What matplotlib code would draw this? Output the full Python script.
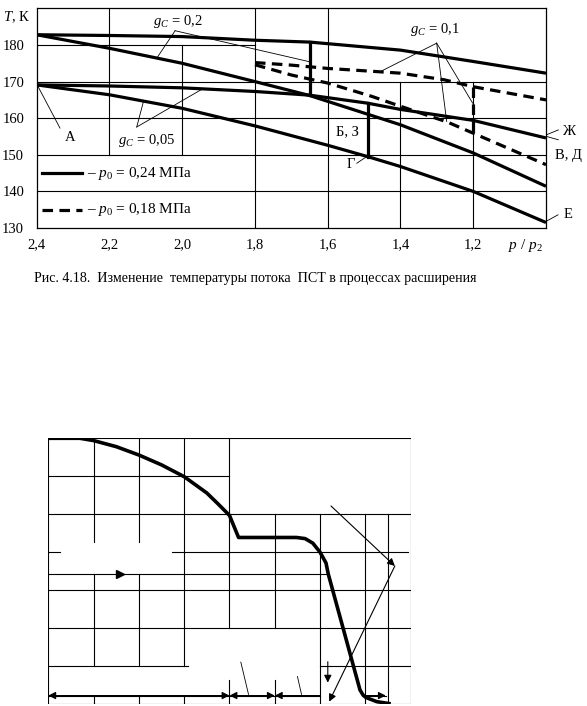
import matplotlib
matplotlib.use('Agg')
import matplotlib.pyplot as plt

plt.rcParams['font.family'] = ['Liberation Serif', 'DejaVu Serif']
plt.rcParams['mathtext.fontset'] = 'custom'
plt.rcParams['mathtext.rm'] = 'Liberation Serif'
plt.rcParams['mathtext.it'] = 'Liberation Serif:italic'

W, H = 587, 706

# ---------------- upper chart: T(p/p2) ----------------
x_ticks = [2.4, 2.2, 2.0, 1.8, 1.6, 1.4, 1.2]
x_tick_labels = ['2,4', '2,2', '2,0', '1,8', '1,6', '1,4', '1,2']
y_ticks = [130, 140, 150, 160, 170, 180]

# p0 = 0.24 MPa (solid)
p_top = [2.4, 2.2, 2.0, 1.8, 1.65, 1.4, 1.2, 1.0]
T_top = [182.8, 182.6, 182.3, 181.3, 180.8, 178.6, 175.5, 172.3]
p_a = [2.4, 2.2, 2.0, 1.8, 1.65, 1.4, 1.2, 1.0]
T_a = [182.8, 179.1, 175.0, 170.0, 166.2, 158.2, 150.5, 141.4]
p_b = [2.4, 2.2, 2.0, 1.8, 1.65, 1.49, 1.4, 1.2, 1.0]
T_b = [169.1, 168.8, 168.3, 167.3, 166.3, 164.1, 162.4, 159.4, 154.6]
p_c = [2.4, 2.2, 2.0, 1.8, 1.6, 1.49, 1.4, 1.2, 1.0]
T_c = [169.1, 166.4, 162.7, 157.9, 152.6, 149.5, 146.8, 140.0, 131.5]
jump_p = [1.65, 1.49]
jump_T0 = [180.8, 164.1]
jump_T1 = [166.3, 149.5]

# p0 = 0.18 MPa (dashed)
p_d1 = [1.8, 1.7, 1.6, 1.46, 1.4, 1.28, 1.2, 1.0]
T_d1 = [175.2, 174.5, 173.6, 172.7, 172.3, 170.5, 168.6, 165.0]
p_d2 = [1.8, 1.7, 1.6, 1.48, 1.41, 1.27, 1.2, 1.0]
T_d2 = [174.6, 171.8, 169.6, 166.0, 163.6, 158.9, 155.9, 147.3]
djump_p = 1.2
djump_T = [168.6, 155.9]

# grid pieces: (x, T from, T to) and (T, x from, x to)
grid_v = [(2.2, 150, 190), (2.0, 150, 180), (1.8, 130, 190),
          (1.6, 130, 190), (1.4, 130, 170), (1.2, 130, 170)]
grid_h = [(180, 2.4, 1.8), (170, 2.4, 1.0), (160, 2.4, 1.0),
          (150, 2.4, 1.0), (140, 2.4, 1.0)]

# leaders: label apex -> targets
lead_02 = [(2.0195, 183.9), [(2.07, 176.4), (1.649, 175.4)]]
lead_005 = [(2.125, 157.6), [(2.107, 164.4), (1.946, 167.9)]]
lead_01 = [(1.3005, 180.5), [(1.456, 172.7), (1.273, 159.1), (1.2015, 164.1)]]
short_leads = [((2.336, 157.3), (2.396, 168.6)),   # A
               ((1.520, 147.7), (1.493, 149.5)),   # Г
               ((0.966, 156.8), (0.998, 155.5)),   # Ж
               ((0.998, 155.0), (0.966, 154.1)),
               ((0.967, 133.6), (1.0, 131.8))]     # Е

labels = [('$g_C$ = 0,2', 2.012, 186.3, 'center'),
          ('$g_C$ = 0,05', 2.097, 153.8, 'center'),
          ('$g_C$ = 0,1', 1.305, 184.1, 'center'),
          ('А', 2.308, 154.6, 'center'),
          ('Б, З', 1.547, 156.4, 'center'),
          ('Г', 1.536, 147.3, 'center'),
          ('Ж', 0.935, 156.4, 'center'),
          ('В, Д', 0.975, 149.8, 'left'),
          ('Е', 0.939, 133.6, 'center')]

legend_rows = [('-', 145.0, '– $p_0$ = 0,24 МПа'),
               ('--', 135.0, '– $p_0$ = 0,18 МПа')]

# ---------------- lower chart (grid units) ----------------
curve_x = [0.0, 0.7, 1.0, 1.5, 2.0, 2.5, 3.0, 3.5, 3.75, 4.0, 4.2,
           5.48, 5.67, 5.84, 6.0, 6.13, 6.18, 6.88, 6.95, 7.01, 7.25, 7.52]
curve_v = [7.0, 7.0, 6.94, 6.78, 6.56, 6.30, 5.99, 5.56, 5.27, 4.97, 4.39,
           4.39, 4.36, 4.24, 4.0, 3.72, 3.43, 0.38, 0.24, 0.18, 0.07, 0.02]

grid2_v = [(0, 0, 7), (8, 0, 7), (1, 4.28, 7), (1, 1.02, 3.42), (1, 0, 0.23),
           (2, 4.28, 7), (2, 1.02, 3.42), (2, 0, 0.23), (3, 1.02, 7), (3, 0, 0.23),
           (4, 2.0, 7), (4, 0, 0.64), (5, 2.0, 5.0), (5, 0, 0.64),
           (6, 0, 5.0), (7, 0, 5.0), (7.5, 0, 5.0)]
grid2_h = [(7, 0, 8), (6, 0, 4), (5, 0, 8), (4, 0, 0.26), (4, 2.73, 7.93),
           (3.42, 0, 6.18), (3, 0, 8), (2, 0, 8), (1, 0, 3.09), (1, 6, 8), (0, 0, 8)]
dim_v = 0.23
dims = [(0, 4, '<|-|>'), (4, 5, '<|-|>'), (6, 5, '-|>'), (7, 7.45, '-|>')]
arrows2 = [((6.24, 5.22), (7.65, 3.64)), ((7.65, 3.64), (6.2, 0.07)),
           ((6.17, 1.12), (6.17, 0.57))]
ticks2 = [((4.25, 1.11), (4.42, 0.26)), ((5.5, 0.73), (5.59, 0.26))]
flow_mark = (1.58, 3.42)

fig = plt.figure(figsize=(W / 100, H / 100), dpi=100)

# upper axes
ax = fig.add_axes([36.7 / W, 1 - 228 / H, (546 - 36.7) / W, (228 - 8.4) / H])
ax.set_xlim(2.4, 1.0)
ax.set_ylim(130, 190)
ax.set_xticks(x_ticks)
ax.set_xticklabels(x_tick_labels)
ax.set_yticks(y_ticks)
ax.tick_params(length=0, labelsize=10.5, pad=7)
ax.tick_params(axis='y', pad=9)
for s in ax.spines.values():
    s.set_linewidth(0.9)

for x, t0, t1 in grid_v:
    ax.plot([x, x], [t0, t1], color='k', lw=0.8)
for t, x0, x1 in grid_h:
    ax.plot([x0, x1], [t, t], color='k', lw=0.8)

lw_c = 2.3
for p, t in [(p_top, T_top), (p_a, T_a), (p_b, T_b), (p_c, T_c)]:
    ax.plot(p, t, color='k', lw=lw_c, solid_capstyle='butt')
for p, t0, t1 in zip(jump_p, jump_T0, jump_T1):
    ax.plot([p, p], [t0, t1], color='k', lw=lw_c)
dash = (0, (3.3, 2.0))
ax.plot(p_d1, T_d1, color='k', lw=lw_c, ls=dash)
ax.plot(p_d2, T_d2, color='k', lw=lw_c, ls=dash)
ax.plot([djump_p, djump_p], djump_T, color='k', lw=lw_c, ls=dash)

for apex, targets in [lead_02, lead_005, lead_01]:
    for tx, ty in targets:
        ax.plot([apex[0], tx], [apex[1], ty], color='k', lw=0.6)
for (x0, y0), (x1, y1) in short_leads:
    ax.plot([x0, x1], [y0, y1], color='k', lw=0.6, clip_on=False)

for txt, x, y, ha in labels:
    ax.text(x, y, txt, ha=ha, va='center', fontsize=10.5)

for ls, t, txt in legend_rows:
    ax.plot([2.386, 2.276], [t, t], color='k', lw=lw_c,
            ls=dash if ls == '--' else '-')
    ax.text(2.263, t, txt, ha='left', va='center', fontsize=11)

ax.text(1.008, 125.2, '$p$ / $p_2$', ha='right', va='center', fontsize=11)
fig.text(3.3 / W, 1 - 16.7 / H, '$T$, К', ha='left', va='center', fontsize=10.5)
fig.text(255.5 / W, 1 - 278.5 / H,
         'Рис. 4.18.  Изменение  температуры потока  ПСТ в процессах расширения',
         ha='center', va='center', fontsize=10.1)

# lower axes
ax2 = fig.add_axes([48.3 / W, 1.7 / H, (410.7 - 48.3) / W, 266 / H])
ax2.set_xlim(0, 8)
ax2.set_ylim(0, 7)
ax2.axis('off')
for x, v0, v1 in grid2_v:
    ax2.plot([x, x], [v0, v1], color='k', lw=0.8)
for v, x0, x1 in grid2_h:
    ax2.plot([x0, x1], [v, v], color='k', lw=0.8)
ax2.plot(curve_x, curve_v, color='k', lw=2.6, solid_joinstyle='round')
ax2.plot(*flow_mark, marker='>', ms=6, color='k')
ax2.plot([0, 6], [dim_v, dim_v], color='k', lw=0.8)
ax2.plot([7, 7.45], [dim_v, dim_v], color='k', lw=0.8)
for x0, x1, st in dims:
    ax2.annotate('', xy=(x1, dim_v), xytext=(x0, dim_v),
                 arrowprops=dict(arrowstyle=st, color='k', lw=0.8,
                                 mutation_scale=11, shrinkA=0, shrinkB=0))
for a, b in arrows2:
    ax2.annotate('', xy=b, xytext=a,
                 arrowprops=dict(arrowstyle='-|>', color='k', lw=0.8,
                                 mutation_scale=11, shrinkA=0, shrinkB=0))
for (x0, y0), (x1, y1) in ticks2:
    ax2.plot([x0, x1], [y0, y1], color='k', lw=0.6)

fig.savefig('out.png', dpi=100)
